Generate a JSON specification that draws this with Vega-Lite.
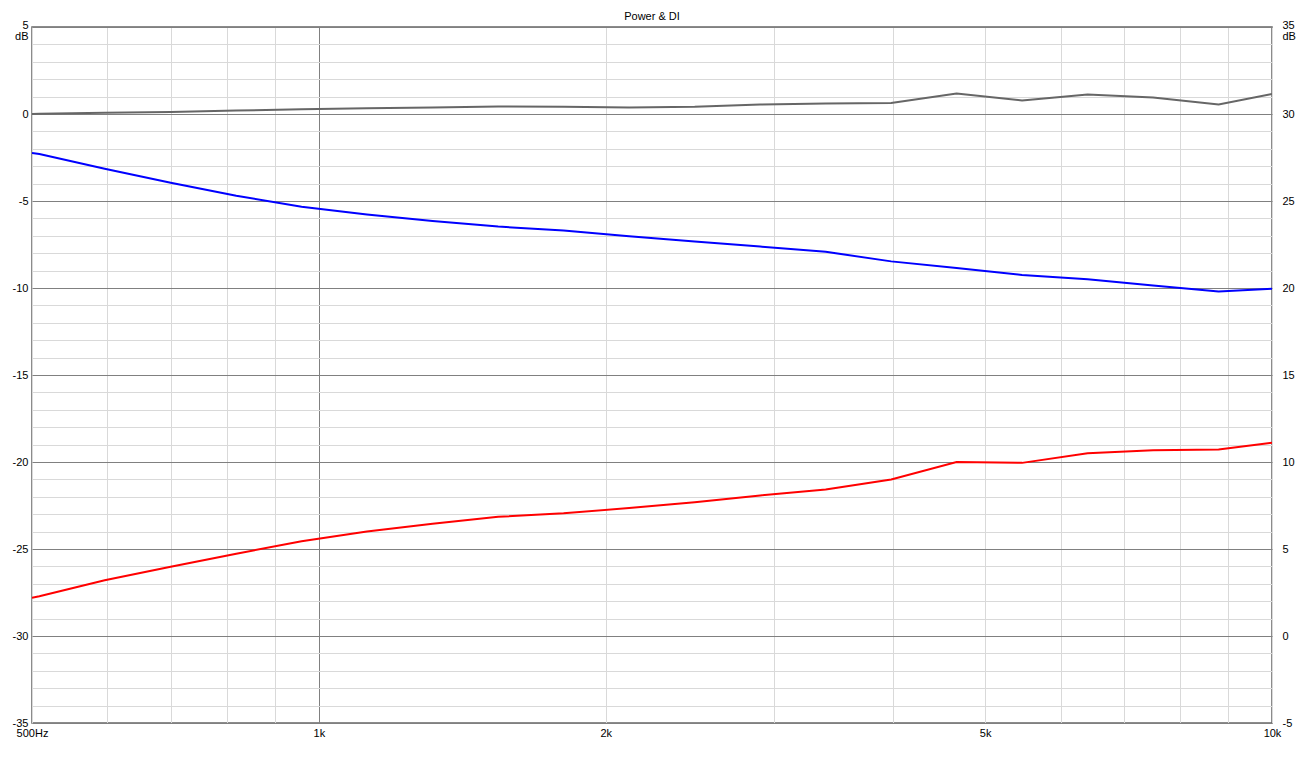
{
  "$schema": "https://vega.github.io/schema/vega-lite/v6.json",
  "width": 1240,
  "height": 696,
  "autosize": "none",
  "padding": {"left": 32, "top": 27, "right": 31, "bottom": 38},
  "background": "white",
  "title": {"text": "Power & DI", "fontSize": 11, "fontWeight": "normal", "font": "Liberation Sans", "offset": -3, "color": "black"},
  "config": {
    "view": {"stroke": "#666666", "strokeWidth": 1.5},
    "axis": {"labelFont": "Liberation Sans", "labelFontSize": 11, "labelColor": "black", "titleFont": "Liberation Sans", "titleFontSize": 11, "titleFontWeight": "normal", "titleColor": "black", "ticks": false, "domain": false, "labelOverlap": false, "labelFlush": false, "gridWidth": 1}
  },
  "datasets": {
    "response": [
      {"freq": 500, "curve": "Listening window", "dB": 0.0},
      {"freq": 509, "curve": "Listening window", "dB": 0.01},
      {"freq": 596, "curve": "Listening window", "dB": 0.07},
      {"freq": 699, "curve": "Listening window", "dB": 0.12},
      {"freq": 819, "curve": "Listening window", "dB": 0.2},
      {"freq": 959, "curve": "Listening window", "dB": 0.27},
      {"freq": 1123, "curve": "Listening window", "dB": 0.33},
      {"freq": 1316, "curve": "Listening window", "dB": 0.38},
      {"freq": 1542, "curve": "Listening window", "dB": 0.43},
      {"freq": 1806, "curve": "Listening window", "dB": 0.42},
      {"freq": 2116, "curve": "Listening window", "dB": 0.38},
      {"freq": 2479, "curve": "Listening window", "dB": 0.42},
      {"freq": 2904, "curve": "Listening window", "dB": 0.55},
      {"freq": 3402, "curve": "Listening window", "dB": 0.6},
      {"freq": 3985, "curve": "Listening window", "dB": 0.63},
      {"freq": 4667, "curve": "Listening window", "dB": 1.18},
      {"freq": 5467, "curve": "Listening window", "dB": 0.78},
      {"freq": 6405, "curve": "Listening window", "dB": 1.12},
      {"freq": 7503, "curve": "Listening window", "dB": 0.95},
      {"freq": 8790, "curve": "Listening window", "dB": 0.55},
      {"freq": 10000, "curve": "Listening window", "dB": 1.15},
      {"freq": 500, "curve": "Sound power", "dB": -2.24},
      {"freq": 509, "curve": "Sound power", "dB": -2.3},
      {"freq": 596, "curve": "Sound power", "dB": -3.15},
      {"freq": 699, "curve": "Sound power", "dB": -3.95},
      {"freq": 819, "curve": "Sound power", "dB": -4.7},
      {"freq": 959, "curve": "Sound power", "dB": -5.33},
      {"freq": 1123, "curve": "Sound power", "dB": -5.78},
      {"freq": 1316, "curve": "Sound power", "dB": -6.15},
      {"freq": 1542, "curve": "Sound power", "dB": -6.47},
      {"freq": 1806, "curve": "Sound power", "dB": -6.7},
      {"freq": 2116, "curve": "Sound power", "dB": -7.03},
      {"freq": 2479, "curve": "Sound power", "dB": -7.33},
      {"freq": 2904, "curve": "Sound power", "dB": -7.62},
      {"freq": 3402, "curve": "Sound power", "dB": -7.92},
      {"freq": 3985, "curve": "Sound power", "dB": -8.47},
      {"freq": 4667, "curve": "Sound power", "dB": -8.85},
      {"freq": 5467, "curve": "Sound power", "dB": -9.25},
      {"freq": 6405, "curve": "Sound power", "dB": -9.5},
      {"freq": 7503, "curve": "Sound power", "dB": -9.85},
      {"freq": 8790, "curve": "Sound power", "dB": -10.2},
      {"freq": 10000, "curve": "Sound power", "dB": -10.05}
    ],
    "di": [
      {"freq": 500, "curve": "DI", "dB": 2.2},
      {"freq": 509, "curve": "DI", "dB": 2.28},
      {"freq": 596, "curve": "DI", "dB": 3.2},
      {"freq": 699, "curve": "DI", "dB": 3.98},
      {"freq": 819, "curve": "DI", "dB": 4.73},
      {"freq": 959, "curve": "DI", "dB": 5.45},
      {"freq": 1123, "curve": "DI", "dB": 6.0},
      {"freq": 1316, "curve": "DI", "dB": 6.45},
      {"freq": 1542, "curve": "DI", "dB": 6.85},
      {"freq": 1806, "curve": "DI", "dB": 7.05},
      {"freq": 2116, "curve": "DI", "dB": 7.35},
      {"freq": 2479, "curve": "DI", "dB": 7.68},
      {"freq": 2904, "curve": "DI", "dB": 8.08},
      {"freq": 3402, "curve": "DI", "dB": 8.42},
      {"freq": 3985, "curve": "DI", "dB": 9.0},
      {"freq": 4667, "curve": "DI", "dB": 10.0},
      {"freq": 5467, "curve": "DI", "dB": 9.95},
      {"freq": 6405, "curve": "DI", "dB": 10.5},
      {"freq": 7503, "curve": "DI", "dB": 10.68},
      {"freq": 8790, "curve": "DI", "dB": 10.72},
      {"freq": 10000, "curve": "DI", "dB": 11.1}
    ]
  },
  "layer": [
    {
      "data": {"name": "response"},
      "mark": {"type": "line", "strokeWidth": 2, "clip": true},
      "encoding": {
        "x": {
          "field": "freq", "type": "quantitative",
          "scale": {"type": "log", "domain": [500, 10000], "nice": false},
          "axis": {
            "title": null,
            "values": [500, 600, 700, 800, 900, 1000, 2000, 3000, 4000, 5000, 6000, 7000, 8000, 9000, 10000],
            "grid": true,
            "gridColor": {"condition": {"test": "datum.value == 1000", "value": "#808080"}, "value": "#d9d9d9"},
            "labelExpr": "datum.value == 500 ? '500Hz' : datum.value == 1000 ? '1k' : datum.value == 2000 ? '2k' : datum.value == 5000 ? '5k' : datum.value == 10000 ? '10k' : ''",
            "labelPadding": 4
          }
        },
        "y": {
          "field": "dB", "type": "quantitative",
          "scale": {"domain": [-35, 5], "nice": false, "zero": false},
          "axis": {
            "orient": "left",
            "title": "dB",
            "titleAngle": 0,
            "titleAlign": "right",
            "titleBaseline": "alphabetic",
            "titleX": -4,
            "titleY": 12,
            "values": [-35, -34, -33, -32, -31, -30, -29, -28, -27, -26, -25, -24, -23, -22, -21, -20, -19, -18, -17, -16, -15, -14, -13, -12, -11, -10, -9, -8, -7, -6, -5, -4, -3, -2, -1, 0, 1, 2, 3, 4, 5],
            "grid": true,
            "gridColor": {"condition": {"test": "datum.value % 5 === 0", "value": "#808080"}, "value": "#d9d9d9"},
            "labelExpr": "datum.value % 5 === 0 ? '' + datum.value : ''",
            "labelOffset": {"condition": {"test": "datum.value == 5", "value": -2}, "value": 0},
            "labelPadding": 4
          }
        },
        "color": {
          "field": "curve", "type": "nominal",
          "scale": {"domain": ["Listening window", "Sound power"], "range": ["#666666", "#0000ff"]},
          "legend": null
        }
      }
    },
    {
      "data": {"name": "di"},
      "mark": {"type": "line", "strokeWidth": 2, "color": "#ff0000", "clip": true},
      "encoding": {
        "x": {"field": "freq", "type": "quantitative", "scale": {"type": "log", "domain": [500, 10000], "nice": false}},
        "y": {
          "field": "dB", "type": "quantitative",
          "scale": {"domain": [-5, 35], "nice": false, "zero": false},
          "axis": {
            "orient": "right",
            "title": "dB",
            "titleAngle": 0,
            "titleAlign": "left",
            "titleBaseline": "alphabetic",
            "titleX": 10,
            "titleY": 12,
            "values": [-5, 0, 5, 10, 15, 20, 25, 30, 35],
            "grid": false,
            "labelExpr": "'' + datum.value",
            "labelOffset": {"condition": {"test": "datum.value == 35", "value": -2}, "value": 0},
            "labelPadding": 10
          }
        }
      }
    }
  ],
  "resolve": {"scale": {"y": "independent"}}
}
